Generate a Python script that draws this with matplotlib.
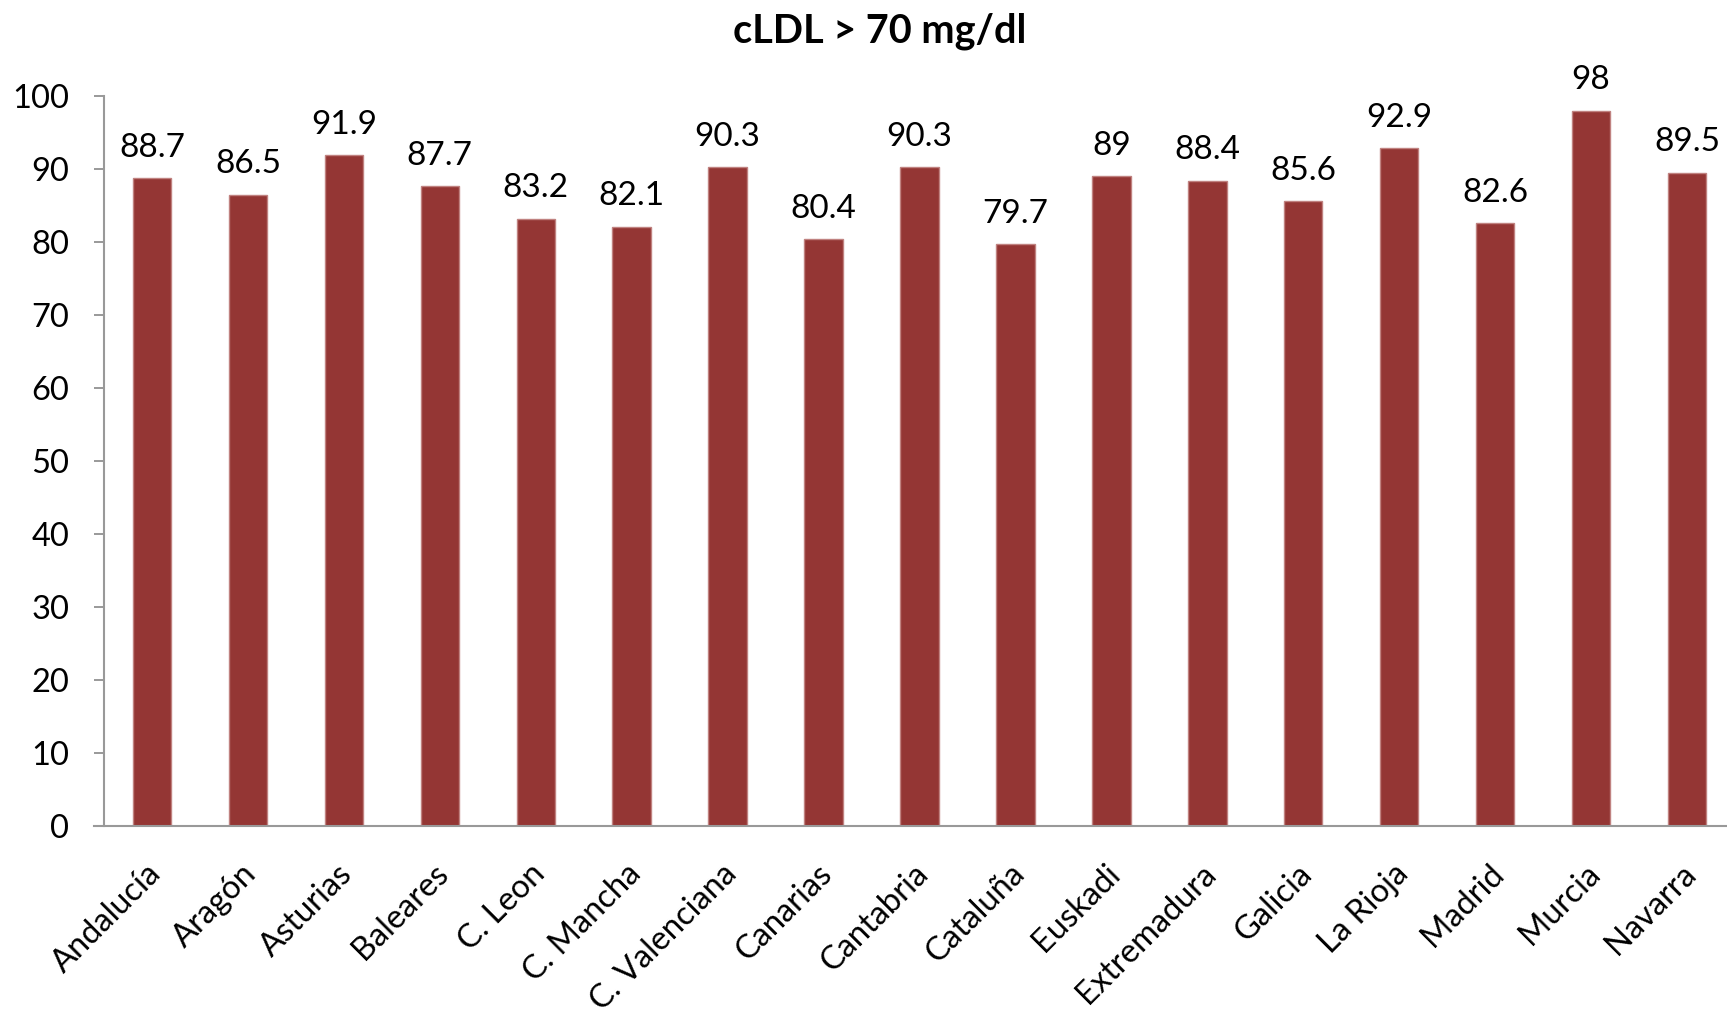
import matplotlib
matplotlib.use("Agg")
import matplotlib.pyplot as plt

regions = ["Andalucía", "Aragón", "Asturias", "Baleares", "C. Leon", "C. Mancha",
           "C. Valenciana", "Canarias", "Cantabria", "Cataluña", "Euskadi",
           "Extremadura", "Galicia", "La Rioja", "Madrid", "Murcia", "Navarra"]
values = [88.7, 86.5, 91.9, 87.7, 83.2, 82.1, 90.3, 80.4, 90.3, 79.7, 89, 88.4,
          85.6, 92.9, 82.6, 98, 89.5]
value_labels = ["88.7", "86.5", "91.9", "87.7", "83.2", "82.1", "90.3", "80.4", "90.3",
                "79.7", "89", "88.4", "85.6", "92.9", "82.6", "98", "89.5"]
yticks = [0, 10, 20, 30, 40, 50, 60, 70, 80, 90, 100]
title = "cLDL > 70 mg/dl"

plt.rcParams['font.family'] = ['Lato', 'DejaVu Sans']

W, H = 1727, 1015
L, R, B, T = 104, 1735, 826, 96
fig = plt.figure(figsize=(W / 100, H / 100), dpi=100)
ax = fig.add_axes([L / W, 1 - B / H, (R - L) / W, (B - T) / H])

x = list(range(len(regions)))
ax.bar(x, values, width=0.4, color='#943634', edgecolor='#c08280', linewidth=1.0)

for xi, v, lab in zip(x, values, value_labels):
    ax.annotate(lab, (xi, v), xytext=(0, 11), textcoords='offset points',
                ha='center', va='bottom', fontsize=24, color='black')

ax.set_xlim(-0.5, len(regions) - 0.5)
ax.set_ylim(0, 100)
ax.set_yticks(yticks)
ax.set_yticklabels([str(t) for t in yticks], fontsize=23.5)
ax.tick_params(axis='y', direction='out', length=7, width=1.2, color='#888888', pad=18)

ax.set_xticks(x)
ax.set_xticklabels([])
ax.tick_params(axis='x', length=0)
for xi, lab in zip(x, regions):
    ax.annotate(lab, (xi, 0), xytext=(3, -31), textcoords='offset points',
                ha='right', va='center', rotation=45, rotation_mode='anchor',
                fontsize=23.5, color='black', annotation_clip=False)

for s in ['top', 'right']:
    ax.spines[s].set_visible(False)
for s in ['left', 'bottom']:
    ax.spines[s].set_color('#999999')
    ax.spines[s].set_linewidth(1.5)
ax.spines['bottom'].set_bounds(-0.5 - 10 / 96.0, len(regions) - 0.5)

fig.text(880 / W, 1 - 42 / H, title, ha='center', va='baseline', fontsize=28.5,
         fontweight='bold', color='black')

fig.savefig("out.png", dpi=100, facecolor='white')
